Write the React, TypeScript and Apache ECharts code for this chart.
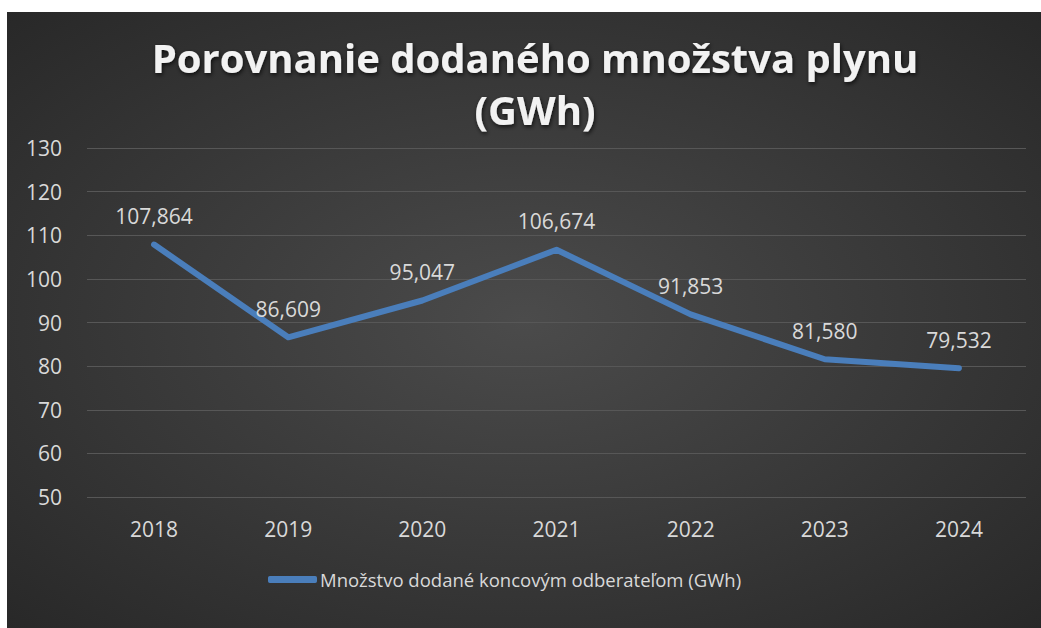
import React, { useEffect, useRef } from "react";
import * as echarts from "echarts";

const categories = ["2018", "2019", "2020", "2021", "2022", "2023", "2024"];
const values = [107.864, 86.609, 95.047, 106.674, 91.853, 81.58, 79.532];
const seriesName = "Množstvo dodané koncovým odberateľom (GWh)";
const titleText = "Porovnanie dodaného množstva plynu\n(GWh)";

export default function App() {
  const ref = useRef<HTMLDivElement>(null);
  useEffect(() => {
    const chart = echarts.init(ref.current!, null, { renderer: "svg" });
    const font = "'Open Sans', 'DejaVu Sans', sans-serif";
    chart.setOption({
      animation: false,
      backgroundColor: "#ffffff",
      graphic: [
        {
          type: "rect",
          z: -10,
          silent: true,
          shape: { x: 7, y: 12, width: 1034, height: 616 },
          style: {
            fill: new echarts.graphic.RadialGradient(0.5, 0.5, 0.75, [
              { offset: 0, color: "#4b4b4b" },
              { offset: 1, color: "#262626" },
            ]),
          },
        },
      ],
      title: {
        text: titleText,
        left: 530,
        textAlign: "center",
        top: 26,
        textStyle: {
          fontFamily: font,
          fontWeight: "bold",
          fontSize: 40,
          lineHeight: 52,
          color: "#f2f2f2",
          textShadowColor: "rgba(0,0,0,0.7)",
          textShadowBlur: 4,
          textShadowOffsetX: 1,
          textShadowOffsetY: 2,
        },
      },
      legend: {
        left: 268,
        top: 570,
        padding: 0,
        icon: "roundRect",
        itemWidth: 49,
        itemHeight: 7,
        itemGap: 4,
        textStyle: { fontFamily: font, fontSize: 18.5, color: "#d9d9d9", padding: [0, 0, 0, -2] },
        data: [seriesName],
      },
      grid: { left: 87, right: 15, top: 148, bottom: 131 },
      xAxis: {
        type: "category",
        data: categories,
        boundaryGap: true,
        axisLine: { show: false },
        axisTick: { show: false },
        axisLabel: { fontFamily: font, fontSize: 21, color: "#d9d9d9", margin: 21 },
      },
      yAxis: {
        type: "value",
        min: 50,
        max: 130,
        interval: 10,
        axisLine: { show: false },
        axisTick: { show: false },
        axisLabel: { fontFamily: font, fontSize: 21, color: "#d9d9d9", margin: 25 },
        splitLine: { lineStyle: { color: "#575757", width: 1 } },
      },
      series: [
        {
          name: seriesName,
          type: "line",
          data: values,
          showSymbol: true,
          symbol: "circle",
          symbolSize: 0,
          itemStyle: { color: "#4a7ebb" },
          lineStyle: { color: "#4a7ebb", width: 6, cap: "round", join: "round" },
          label: {
            show: true,
            position: "top",
            distance: 18,
            fontFamily: font,
            fontSize: 21,
            color: "#d9d9d9",
            formatter: (p: any) => p.value.toFixed(3).replace(".", ","),
          },
        },
      ],
    });
    return () => chart.dispose();
  }, []);
  return (
    <div
      ref={ref}
      style={{ position: "absolute", left: 0, top: 0, width: 1041, height: 628 }}
    />
  );
}
